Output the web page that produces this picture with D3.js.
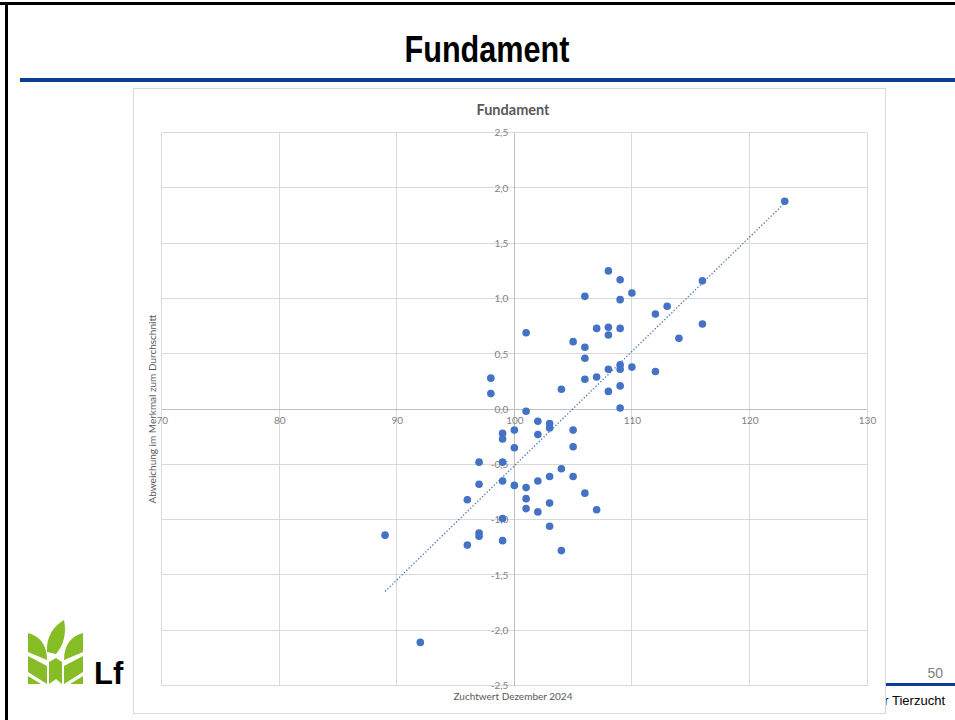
<!DOCTYPE html>
<html>
<head>
<meta charset="utf-8">
<script src="https://cdn.jsdelivr.net/npm/d3@7"></script>
<style>
  html, body { margin: 0; padding: 0; background: #fff; }
  svg { display: block; }
</style>
</head>
<body>
<svg id="slide"></svg>
<script>
const width = 955;
const height = 720;

// Zuchtwert Dezember 2024 (x) and Abweichung im Merkmal zum Durchschnitt (y)
const zuchtwert = [123, 108, 109, 116, 110, 106, 109, 113, 112, 116, 108, 107, 109, 101, 108, 114, 105, 106, 106, 109,
                   110, 108, 109, 112, 107, 98, 106, 109, 104, 108, 98, 109, 101, 102, 103, 103, 100, 105, 99, 102,
                   99, 105, 100, 97, 99, 104, 103, 105, 102, 99, 97, 100, 101, 106, 101, 96, 103, 101, 107, 102,
                   99, 103, 97, 89, 97, 99, 96, 104, 92];
const abweichung = [1.88, 1.25, 1.17, 1.16, 1.05, 1.02, 0.99, 0.93, 0.86, 0.77, 0.74, 0.73, 0.73, 0.69, 0.67, 0.64, 0.61, 0.56, 0.46, 0.40,
                    0.38, 0.36, 0.36, 0.34, 0.29, 0.28, 0.27, 0.21, 0.18, 0.16, 0.14, 0.01, -0.02, -0.11, -0.13, -0.17, -0.19, -0.19, -0.22, -0.23,
                    -0.27, -0.34, -0.35, -0.48, -0.48, -0.54, -0.61, -0.61, -0.65, -0.65, -0.68, -0.69, -0.71, -0.76, -0.81, -0.82, -0.85, -0.90, -0.91, -0.93,
                    -0.99, -1.06, -1.12, -1.14, -1.15, -1.19, -1.23, -1.28, -2.11];
const xTicks = [70, 80, 90, 100, 110, 120, 130];
const yTicks = [-2.5, -2, -1.5, -1, -0.5, 0, 0.5, 1, 1.5, 2, 2.5];

const blue = "#4472c4";
const gridColor = "#d9d9d9";
const textGray = "#595959";
const chartFont = "Lato, 'Open Sans', sans-serif";

let svg = d3.select("#slide")
            .attr("width", width)
            .attr("height", height);

// slide frame
svg.append("rect").attr("x", 0).attr("y", 0).attr("width", width).attr("height", height).attr("fill", "#fff");
svg.append("rect").attr("x", 0).attr("y", 2).attr("width", width).attr("height", 3).attr("fill", "#000");
svg.append("rect").attr("x", 5).attr("y", 2).attr("width", 3).attr("height", height).attr("fill", "#000");

// slide title
svg.append("text")
   .attr("x", 487).attr("y", 62)
   .attr("text-anchor", "middle")
   .attr("font-family", "'Liberation Sans Narrow', 'Liberation Sans', Arial, sans-serif")
   .attr("font-weight", "bold")
   .attr("font-size", 36)
   .attr("textLength", 165)
   .attr("lengthAdjust", "spacingAndGlyphs")
   .attr("fill", "#000")
   .text("Fundament");

svg.append("rect").attr("x", 20).attr("y", 78).attr("width", width - 20).attr("height", 4).attr("fill", "#0b3d96");

// footer (partly covered by the chart)
svg.append("rect").attr("x", 500).attr("y", 683).attr("width", width - 500).attr("height", 3).attr("fill", "#0b3d96");
svg.append("text")
   .attr("x", 943).attr("y", 678)
   .attr("text-anchor", "end")
   .attr("font-family", "'Liberation Sans', Arial, sans-serif")
   .attr("font-size", 14)
   .attr("fill", "#7f7f7f")
   .text("50");
svg.append("text")
   .attr("x", 945).attr("y", 705)
   .attr("text-anchor", "end")
   .attr("font-family", "'Liberation Sans', Arial, sans-serif")
   .attr("font-size", 13)
   .attr("fill", "#000")
   .text("Bayerische Landesanstalt für Landwirtschaft, Institut für Tierzucht");

// logo
let logo = svg.append("g").attr("fill", "#86bc25");
logo.append("path").attr("d", "M47,652 C46,636 54,626 64,620 C67,634 63,646 56,654 Z");
logo.append("path").attr("d", "M28,633 C40,636 47,645 47,660 L28,652 Z");
logo.append("path").attr("d", "M83,633 C71,636 64,645 64,660 L83,652 Z");
logo.append("path").attr("d", "M28,656 L47,666 L47,684 L28,672 Z");
logo.append("path").attr("d", "M49,662 L56,658 L62,662 L62,684 L56,679 L49,684 Z");
logo.append("path").attr("d", "M83,656 L64,666 L64,684 L83,672 Z");
logo.append("path").attr("d", "M28,676 L41,684 L28,684 Z");
logo.append("path").attr("d", "M83,676 L70,684 L83,684 Z");
svg.append("text")
   .attr("x", 94).attr("y", 684)
   .attr("font-family", "'Liberation Sans', Arial, sans-serif")
   .attr("font-weight", "bold")
   .attr("font-size", 31)
   .attr("fill", "#000")
   .text("Lf");

// chart area
svg.append("rect")
   .attr("x", 133.5).attr("y", 88.5)
   .attr("width", 752).attr("height", 625)
   .attr("fill", "#fff")
   .attr("stroke", gridColor);

svg.append("text")
   .attr("x", 513).attr("y", 115)
   .attr("text-anchor", "middle")
   .attr("font-family", chartFont)
   .attr("font-weight", "bold")
   .attr("font-size", 14.5)
   .attr("fill", textGray)
   .text("Fundament");

let x = d3.scaleLinear().domain([70, 130]).range([161.7, 867]);
let y = d3.scaleLinear().domain([-2.5, 2.5]).range([685.5, 132.7]);

let fmt = v => v.toFixed(1).replace(".", ",");

// grid
let grid = svg.append("g").attr("stroke", gridColor).attr("stroke-width", 1).attr("shape-rendering", "crispEdges");
grid.selectAll(".vgrid")
    .data(xTicks)
    .enter()
    .append("line")
      .attr("x1", d => x(d)).attr("x2", d => x(d))
      .attr("y1", y(2.5)).attr("y2", y(-2.5));
grid.selectAll(".hgrid")
    .data(yTicks)
    .enter()
    .append("line")
      .attr("y1", d => y(d)).attr("y2", d => y(d))
      .attr("x1", x(70)).attr("x2", x(130));

// axis lines crossing at (100, 0)
svg.append("line").attr("x1", x(100)).attr("x2", x(100)).attr("y1", y(2.5)).attr("y2", y(-2.5))
   .attr("stroke", "#bfbfbf").attr("shape-rendering", "crispEdges");
svg.append("line").attr("x1", x(70)).attr("x2", x(130)).attr("y1", y(0)).attr("y2", y(0))
   .attr("stroke", "#bfbfbf").attr("shape-rendering", "crispEdges");

let xAxis = svg.append("g")
               .attr("transform", `translate(0,${y(0)})`)
               .call(d3.axisBottom(x).tickValues(xTicks).tickSize(0).tickPadding(8).tickFormat(d => d));
let yAxis = svg.append("g")
               .attr("transform", `translate(${x(100)},0)`)
               .call(d3.axisLeft(y).tickValues(yTicks).tickSize(0).tickPadding(6).tickFormat(fmt));
[xAxis, yAxis].forEach(a => {
  a.select(".domain").remove();
  a.selectAll("text")
   .attr("font-family", chartFont)
   .attr("font-size", 10)
   .attr("fill", "#7f7f7f");
});

// axis titles
svg.append("text")
   .attr("transform", `translate(156,${(y(2.5) + y(-2.5)) / 2}) rotate(-90)`)
   .attr("text-anchor", "middle")
   .attr("font-family", chartFont)
   .attr("font-size", 10)
   .attr("fill", textGray)
   .text("Abweichung im Merkmal zum Durchschnitt");
svg.append("text")
   .attr("x", 513).attr("y", 700)
   .attr("text-anchor", "middle")
   .attr("font-family", chartFont)
   .attr("font-size", 10)
   .attr("fill", textGray)
   .text("Zuchtwert Dezember 2024");

// linear trend line (least squares)
let points = zuchtwert.map((d, i) => ({x: d, y: abweichung[i]}));
let mx = d3.mean(points, d => d.x);
let my = d3.mean(points, d => d.y);
let slope = d3.sum(points, d => (d.x - mx) * (d.y - my)) / d3.sum(points, d => (d.x - mx) * (d.x - mx));
let intercept = my - slope * mx;
let [minX, maxX] = d3.extent(zuchtwert);
svg.append("line")
   .attr("x1", x(minX)).attr("y1", y(intercept + slope * minX))
   .attr("x2", x(maxX)).attr("y2", y(intercept + slope * maxX))
   .attr("stroke", blue)
   .attr("stroke-width", 1.3)
   .attr("stroke-dasharray", "1.3,2");

// points
svg.selectAll(".dot")
   .data(points)
   .enter()
   .append("circle")
     .classed("dot", true)
     .attr("cx", d => x(d.x))
     .attr("cy", d => y(d.y))
     .attr("r", 3.8)
     .attr("fill", blue);
</script>
</body>
</html>
